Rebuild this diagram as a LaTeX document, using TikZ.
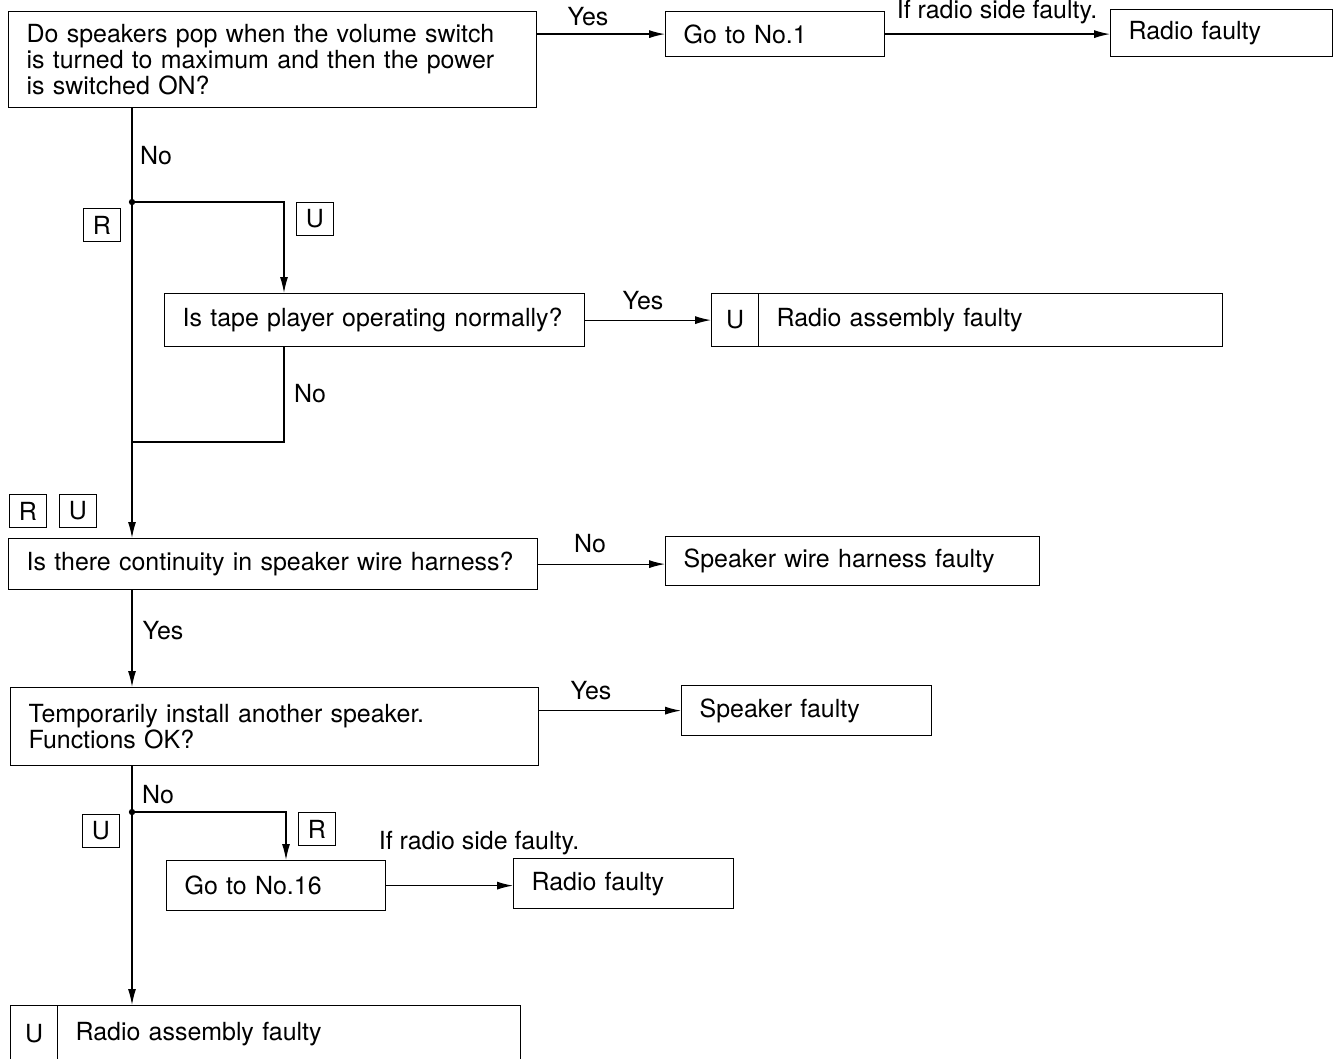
\documentclass[tikz,border=0pt]{standalone}
\usepackage{fontspec}
\setmainfont{TeX Gyre Heros}
\usetikzlibrary{arrows.meta, positioning}
\newcommand{\chartfont}{\fontsize{14.2}{15}\selectfont}
\tikzset{
  chartbox/.style={draw, line width=0.7pt, anchor=north west, align=left, inner xsep=0.36cm, inner ysep=0pt, font=\chartfont},
  ucell/.style={draw, line width=0.7pt, anchor=north west, minimum width=0.94cm, inner sep=0pt, font=\chartfont},
  tagbox/.style={draw, line width=0.7pt, minimum width=0.74cm, minimum height=0.66cm, inner sep=0pt, font=\chartfont},
  flowarr/.style={-{Latex[length=9pt, width=4.5pt]}, line width=0.7pt},
  flowline/.style={line width=0.7pt},
  lbl/.style={font=\chartfont, inner sep=0pt},
}

\begin{document}
\begin{tikzpicture}[x=0.02cm, y=-0.02cm]
  \useasboundingbox (0,0) rectangle (1334,1058);

  % boxes
  \node[chartbox, text width=9.84cm, minimum height=1.92cm] (pop) at (8,11)
    {Do speakers pop when the volume switch\\ is turned to maximum and then the power\\ is switched ON?};
  \node[chartbox, text width=3.66cm, minimum height=0.9cm] (go1) at (665,11) {Go to No.1};
  \node[chartbox, text width=3.72cm, minimum height=0.94cm] (rf1) at (1110,9) {Radio faulty};
  \node[chartbox, text width=7.68cm, minimum height=1.06cm] (tape) at (164,293) {\mbox{Is tape player operating normally?}};
  \node[ucell, minimum height=1.06cm] (u1) at (711,293) {U};
  \node[chartbox, text width=8.56cm, minimum height=1.06cm] (ra1) at (758,293) {Radio assembly faulty};
  \node[chartbox, text width=9.86cm, minimum height=1.02cm] (cont) at (8,538) {\mbox{Is there continuity in speaker wire harness?}};
  \node[chartbox, text width=6.76cm, minimum height=0.98cm] (harn) at (665,536) {Speaker wire harness faulty};
  \node[chartbox, text width=9.84cm, minimum height=1.56cm] (temp) at (10,687)
    {Temporarily install another speaker.\\ Functions OK?};
  \node[chartbox, text width=4.28cm, minimum height=1.0cm] (spk) at (681,685) {Speaker faulty};
  \node[chartbox, text width=3.66cm, minimum height=1.0cm] (go16) at (166,860) {Go to No.16};
  \node[chartbox, text width=3.68cm, minimum height=1.0cm] (rf2) at (513,858) {Radio faulty};
  \node[ucell, minimum height=1.12cm] (u2) at (10,1005) {U};
  \node[chartbox, text width=8.54cm, minimum height=1.12cm] (ra2) at (57,1005) {Radio assembly faulty};

  % R / U tags
  \node[tagbox] (tagr1) at (102,225) {R};
  \node[tagbox] (tagu1) at (315,219) {U};
  \node[tagbox] (tagr2) at (28,511) {R};
  \node[tagbox] (tagu2) at (78,511) {U};
  \node[tagbox] (tagu3) at (101,831) {U};
  \node[tagbox] (tagr3) at (317,829) {R};

  % branch points
  \coordinate (j1) at (132,202);
  \coordinate (t1) at (284,293);
  \coordinate (k1) at (284,442);
  \coordinate (m1) at (132,442);
  \coordinate (j2) at (132,812);
  \coordinate (g1) at (286,860);

  % connectors
  \draw[flowarr] (go1.west -| pop.east) -- (go1.west);
  \draw[flowarr] (go1.east) -- (go1.east -| rf1.west);
  \draw[flowline] (pop.south -| j1) -- (j1);
  \fill (j1) circle (1.8pt);
  \draw[flowarr] (j1) -| (t1);
  \draw[flowarr] (tape.east) -- (tape.east -| u1.west);
  \draw[flowline] (tape.south -| t1) -- (k1) -- (m1);
  \draw[flowarr] (j1) -- (j1 |- cont.north);
  \draw[flowarr] (cont.east) -- (cont.east -| harn.west);
  \draw[flowarr] (cont.south -| j1) -- (temp.north -| j1);
  \draw[flowarr] (spk.west -| temp.east) -- (spk.west);
  \draw[flowline] (temp.south -| j2) -- (j2);
  \fill (j2) circle (1.8pt);
  \draw[flowarr] (j2) -| (g1);
  \draw[flowarr] (go16.east) -- (go16.east -| rf2.west);
  \draw[flowarr] (j2) -- (j2 |- ra2.north);

  % labels
  \node[lbl] (l1) at (588,17) {Yes};
  \node[lbl] (l2) at (997,12) {If radio side faulty.};
  \node[lbl] (l3) at (156,156) {No};
  \node[lbl] (l4) at (643,301) {Yes};
  \node[lbl] (l5) at (310,394) {No};
  \node[lbl] (l6) at (590,544) {No};
  \node[lbl] (l7) at (163,631) {Yes};
  \node[lbl] (l8) at (591,691) {Yes};
  \node[lbl] (l9) at (158,795) {No};
  \node[lbl] (l10) at (479,843) {If radio side faulty.};
\end{tikzpicture}
\end{document}
